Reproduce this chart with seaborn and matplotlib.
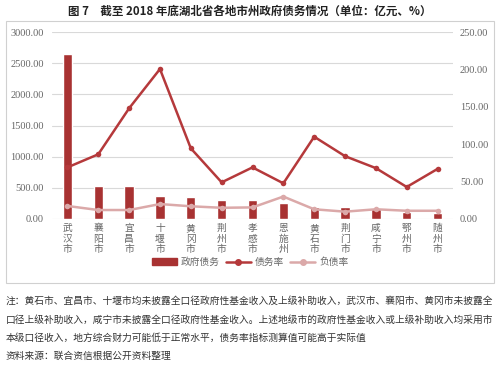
import matplotlib
matplotlib.use("Agg")
import matplotlib.pyplot as plt
import seaborn as sns
import pandas as pd
from matplotlib.patches import Patch, Rectangle
from matplotlib.lines import Line2D
from matplotlib.ticker import FormatStrFormatter

cities = ["武汉市", "襄阳市", "宜昌市", "十堰市", "黄冈市", "荆州市", "孝感市",
          "恩施州", "黄石市", "荆门市", "咸宁市", "鄂州市", "随州市"]
debt = [2640, 534, 530, 369, 348, 305, 300, 250, 195, 185, 160, 117, 101]
debt_ratio = [69, 86.5, 148, 200.5, 94.5, 49, 69, 47.7, 110, 84, 68, 42.8, 67]
liab_ratio = [17.4, 12, 12, 20, 17, 15, 15.5, 30, 13, 9.8, 13, 11, 11]

sns.set_theme(style="white")
plt.rcParams['font.family'] = ['Noto Sans CJK SC', 'DejaVu Sans']

BAR = "#a83232"
LINE = "#b5393b"
PINK = "#dba9a9"
GRID = "#d9d9d9"
TXT = "#666666"

df = pd.DataFrame({"city": cities, "debt": debt, "debt_ratio": debt_ratio,
                   "liab_ratio": liab_ratio})

fig = plt.figure(figsize=(5, 3.72), dpi=100)
ax = fig.add_axes([52/500, 1-219/372, (453-52)/500, (219-32)/372])

sns.barplot(data=df, x="city", y="debt", color=BAR, width=0.3, ax=ax,
            saturation=1, zorder=2)
ax.set_ylim(0, 3000)
ax.set_yticks([0, 500, 1000, 1500, 2000, 2500, 3000])
ax.yaxis.set_major_formatter(FormatStrFormatter("%.2f"))
ax.grid(axis="y", color=GRID, linewidth=0.8, zorder=0)
ax.set_axisbelow(True)
for s in ax.spines.values():
    s.set_visible(False)
ax.set_xlim(-0.5, 12.5)
ax.set_xlabel("")
ax.set_ylabel("")
ax.set_xticks(range(len(cities)))
ax.set_xticklabels(["\n".join(c) for c in cities], fontsize=7, color=TXT,
                   linespacing=1.05, va="top")
ax.tick_params(axis="x", length=0, pad=3)
ax.tick_params(axis="y", length=0, pad=6)
for lab in ax.get_yticklabels():
    lab.set_fontfamily("Liberation Serif")
    lab.set_fontsize(7.5)
    lab.set_color(TXT)

ax2 = ax.twinx()
xs = list(range(len(cities)))
sns.lineplot(x=xs, y=debt_ratio, ax=ax2, color=LINE, marker="o", markersize=4,
             markeredgewidth=0, linewidth=1.8, zorder=3)
sns.lineplot(x=xs, y=liab_ratio, ax=ax2, color=PINK, marker="o", markersize=4,
             markeredgewidth=0, linewidth=1.8, zorder=3)
ax2.set_ylim(0, 250)
ax2.set_xlim(-0.5, 12.5)
ax2.set_yticks([0, 50, 100, 150, 200, 250])
ax2.yaxis.set_major_formatter(FormatStrFormatter("%.2f"))
ax2.grid(False)
for s in ax2.spines.values():
    s.set_visible(False)
ax2.tick_params(axis="y", length=0, pad=5)
for lab in ax2.get_yticklabels():
    lab.set_fontfamily("Liberation Serif")
    lab.set_fontsize(7.5)
    lab.set_color(TXT)

handles = [Patch(facecolor=BAR, edgecolor=BAR),
           Line2D([0], [0], color=LINE, marker="o", markersize=4, linewidth=1.8),
           Line2D([0], [0], color=PINK, marker="o", markersize=4, linewidth=1.8)]
fig.legend(handles, ["政府债务", "债务率", "负债率"], loc="center",
           bbox_to_anchor=(0.5, 1-262/372), ncol=3, frameon=False,
           fontsize=7, labelcolor=TXT, handlelength=2.6, handletextpad=0.4,
           columnspacing=0.6)

# outer frame
fig.patches.append(Rectangle((6/500, 1-283/372), 488/500, (283-21)/372,
                             transform=fig.transFigure, fill=False,
                             edgecolor="#d0d0d0", linewidth=0.8))

fig.text(0.5, 1-11/372, "图 7　截至 2018 年底湖北省各地市州政府债务情况（单位：亿元、%）",
         ha="center", va="center", fontsize=8.3, fontweight="bold", color="#222222")

notes = ["注：黄石市、宜昌市、十堰市均未披露全口径政府性基金收入及上级补助收入，武汉市、襄阳市、黄冈市未披露全",
         "口径上级补助收入，咸宁市未披露全口径政府性基金收入。上述地级市的政府性基金收入或上级补助收入均采用市",
         "本级口径收入，地方综合财力可能低于正常水平，债务率指标测算值可能高于实际值",
         "资料来源：联合资信根据公开资料整理"]
ys = [301, 320, 338, 356]
for t, y in zip(notes, ys):
    fig.text(6/500, 1-y/372, t, ha="left", va="center", fontsize=7.0, color="#333333")

fig.savefig("out.png", dpi=100)
